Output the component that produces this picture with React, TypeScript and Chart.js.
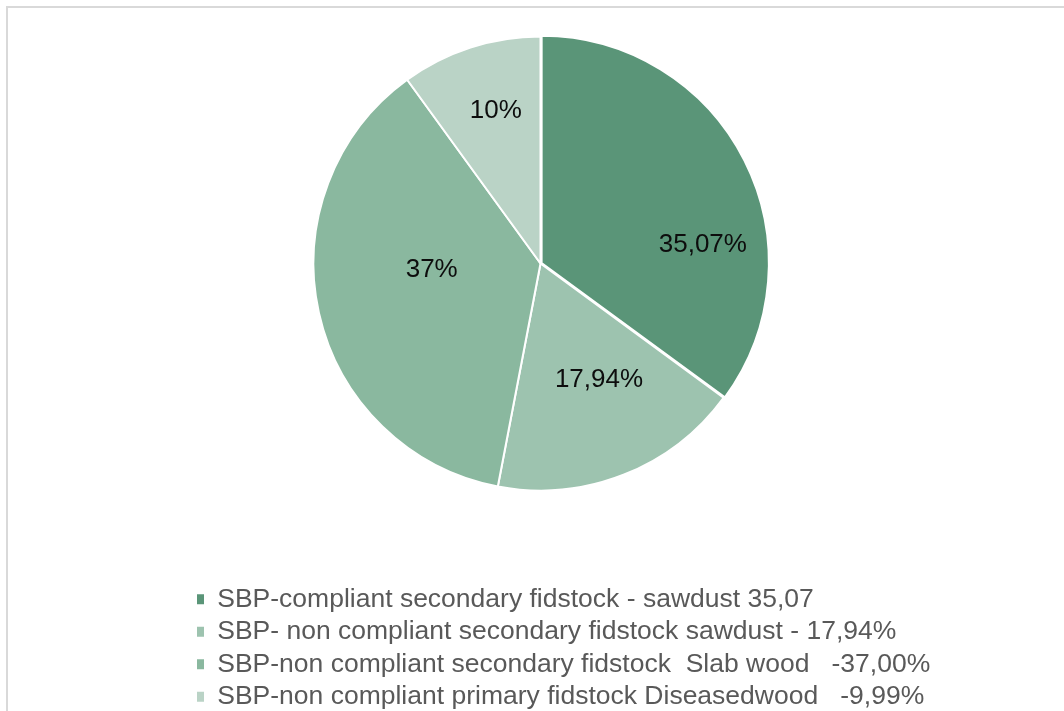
import { useEffect, useRef } from 'react';
import { Chart, registerables } from 'chart.js';

Chart.register(...registerables);

// ---- data ----
const categories = [
  'SBP-compliant secondary fidstock - sawdust 35,07',
  'SBP- non compliant secondary fidstock sawdust - 17,94%',
  'SBP-non compliant secondary fidstock  Slab wood   -37,00%',
  'SBP-non compliant primary fidstock Diseasedwood   -9,99%',
];
const values = [35.07, 17.94, 37.0, 9.99];
const valueLabels = ['35,07%', '17,94%', '37%', '10%'];

// ---- styles ----
const sliceColors = ['#5a9578', '#9dc3af', '#8ab89f', '#bad3c6'];
// label placement inside each slice: fraction along the slice's angle, fraction of radius
const labelAngleFrac = [0.66, 0.42, 0.57, 0.545];
const labelRadiusFrac = [0.72, 0.575, 0.48, 0.7];

const FONT = "'Liberation Sans', Arial, sans-serif";

const sliceLabelPlugin = {
  id: 'sliceLabels',
  afterDatasetsDraw(chart: any) {
    const ctx = chart.ctx as CanvasRenderingContext2D;
    const meta = chart.getDatasetMeta(0);
    ctx.save();
    ctx.font = `26px ${FONT}`;
    ctx.fillStyle = '#0d0d0d';
    ctx.textAlign = 'center';
    ctx.textBaseline = 'middle';
    meta.data.forEach((arc: any, i: number) => {
      const { x, y, startAngle, endAngle, outerRadius } = arc.getProps(
        ['x', 'y', 'startAngle', 'endAngle', 'outerRadius'],
        true
      );
      const a = startAngle + (endAngle - startAngle) * labelAngleFrac[i];
      const r = outerRadius * labelRadiusFrac[i];
      ctx.fillText(valueLabels[i], x + Math.cos(a) * r, y + Math.sin(a) * r);
    });
    ctx.restore();
  },
};

// let the bottom legend run to the right edge of the canvas (the pie stays where the padding puts it)
const widenLegendPlugin = {
  id: 'widenLegend',
  afterLayout(chart: any) {
    const lg = chart.legend;
    if (!lg) return;
    lg.right = chart.width;
    lg.width = lg.right - lg.left;
  },
};

export default function App() {
  const ref = useRef<HTMLCanvasElement>(null);

  useEffect(() => {
    if (!ref.current) return;
    const chart = new Chart(ref.current, {
      type: 'pie',
      data: {
        labels: categories,
        datasets: [
          {
            data: values,
            backgroundColor: sliceColors,
            borderColor: '#ffffff',
            borderWidth: 2,
            offset: [5, 0, 0, 0],
          } as any,
        ],
      },
      options: {
        animation: false,
        responsive: true,
        maintainAspectRatio: false,
        radius: 227,
        layout: { padding: { left: 183, right: 166, top: 0, bottom: 0 } },
        plugins: {
          tooltip: { enabled: false },
          legend: {
            display: true,
            position: 'bottom',
            align: 'start',
            labels: {
              boxWidth: 7,
              boxHeight: 10,
              padding: 6,
              color: '#595959',
              font: { family: FONT, size: 26.5 },
              generateLabels: (c: any) => {
                const base = (Chart as any).overrides.pie.plugins.legend.labels.generateLabels(c);
                return base.map((it: any) => ({ ...it, lineWidth: 0, strokeStyle: 'rgba(0,0,0,0)' }));
              },
            },
          },
        },
      } as any,
      plugins: [sliceLabelPlugin, widenLegendPlugin],
    });
    return () => chart.destroy();
  }, []);

  return (
    <div style={{ position: 'fixed', inset: 0, overflow: 'hidden', background: '#ffffff' }}>
      <div
        style={{
          position: 'absolute',
          left: 6,
          top: 6,
          width: 1200,
          height: 900,
          borderLeft: '2px solid #d9d9d9',
          borderTop: '2px solid #d9d9d9',
        }}
      />
      <div style={{ position: 'absolute', left: 8, top: -53, width: 1048, height: 773 }}>
        <canvas ref={ref} />
      </div>
    </div>
  );
}
